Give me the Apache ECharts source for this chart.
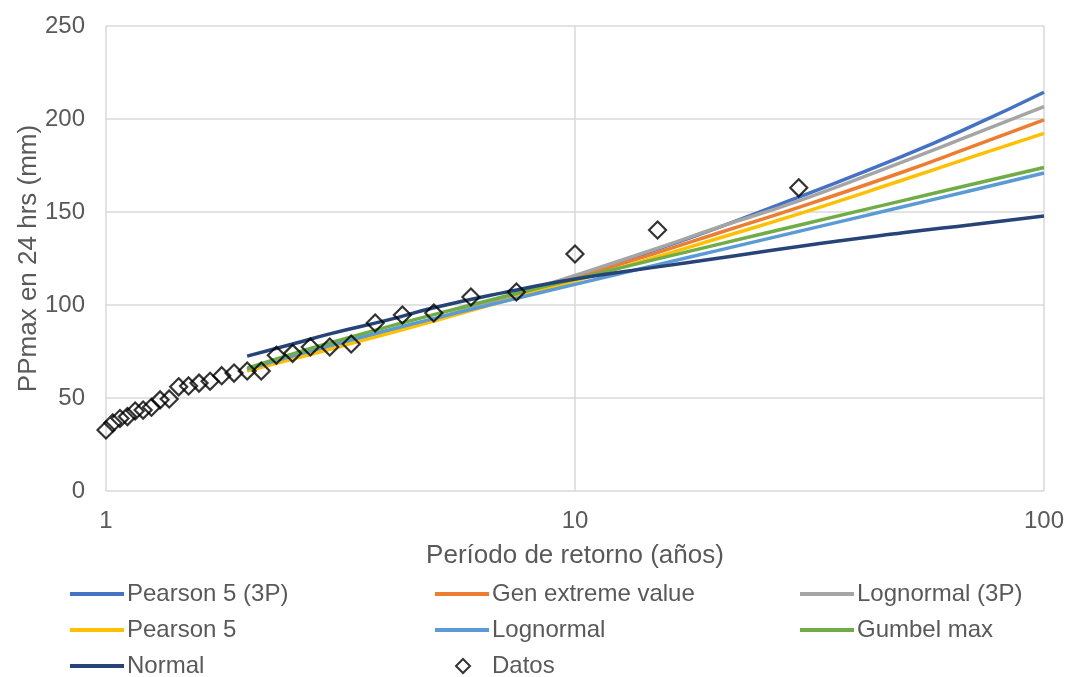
<!DOCTYPE html>
<html>
<head>
<meta charset="utf-8">
<script src="https://cdn.jsdelivr.net/npm/echarts@6/dist/echarts.min.js"></script>
<style>
  html, body { margin: 0; padding: 0; background: #fff; }
  #chart { width: 1067px; height: 677px; }
</style>
</head>
<body>
<div id="chart"></div>
<script>
// periodo de retorno para las curvas ajustadas
const curveT = [2, 2.5, 3, 4, 5, 7, 10, 15, 20, 30, 50, 70, 100];

const pearson5_3p = [65, 71.3, 76.6, 85.2, 92.2, 103.2, 115.2, 130, 141.2, 158, 180, 196, 214.4];
const genExtreme = [65, 71.4, 76.7, 85.3, 92.2, 102.9, 114.5, 128.2, 138.3, 152.5, 171.5, 185, 199.5];
const lognormal3p = [65, 71.4, 76.8, 85.5, 92.5, 103.6, 115.9, 130.5, 141.4, 156, 177, 191.3, 206.6];
const pearson5 = [64.5, 70.9, 76.2, 84.7, 91.4, 101.8, 113, 126, 135.5, 149, 167.2, 179.5, 192.3];
const lognormal = [65.5, 72.7, 78.2, 86.5, 92.7, 101.7, 111.1, 121.7, 129.1, 139.6, 152.8, 161.6, 171];
const gumbelMax = [66, 73.7, 79.6, 88.4, 94.8, 104.3, 114, 124.8, 132.3, 142.9, 156.1, 164.8, 173.9];
const normal = [72.5, 79, 84.5, 92, 98.5, 106.5, 114, 120.5, 125, 131.5, 138.8, 143.2, 147.9];

// datos observados
const datosT = [30, 15, 10, 7.5, 6, 5, 4.286, 3.75, 3.333, 3, 2.727, 2.5, 2.308, 2.143, 2,
  1.875, 1.765, 1.667, 1.579, 1.5, 1.429, 1.364, 1.304, 1.25, 1.2, 1.154, 1.111, 1.071, 1.034, 1];
const datosPP = [163, 140.3, 127.4, 107, 104.3, 95.7, 94.6, 90.3, 79, 77.4, 77.4, 74, 73, 64.5, 64.5,
  63.4, 62, 59, 58, 56.5, 56, 49.5, 49, 45, 43.5, 43, 40, 39, 36.6, 32.8];

const xTicks = [1, 10, 100];
const yTicks = [0, 50, 100, 150, 200, 250];

const fitSeries = [
  { name: "Pearson 5 (3P)", data: pearson5_3p, color: "#4472C4" },
  { name: "Gen extreme value", data: genExtreme, color: "#ED7D31" },
  { name: "Lognormal (3P)", data: lognormal3p, color: "#A5A5A5" },
  { name: "Pearson 5", data: pearson5, color: "#FFC000" },
  { name: "Lognormal", data: lognormal, color: "#5B9BD5" },
  { name: "Gumbel max", data: gumbelMax, color: "#70AD47" },
  { name: "Normal", data: normal, color: "#264478" },
];

const textColor = "#595959";
const font = "Liberation Sans, Arial, sans-serif";

const series = fitSeries.map((s) => ({
  name: s.name,
  type: "line",
  data: curveT.map((t, i) => [t, s.data[i]]),
  smooth: true,
  symbol: "none",
  lineStyle: { color: s.color, width: 3.5 },
  itemStyle: { color: s.color },
  z: 2,
}));

series.push({
  name: "Datos",
  type: "scatter",
  data: datosT.map((t, i) => [t, datosPP[i]]),
  symbol: "diamond",
  symbolSize: 17,
  itemStyle: { color: "rgba(255,255,255,0)", borderColor: "#000", borderWidth: 2.2 },
  z: 3,
});

const legendBase = {
  orient: "vertical",
  top: 582,
  height: 96,
  padding: 0,
  itemWidth: 54,
  itemHeight: 14,
  itemGap: 12,
  itemStyle: { opacity: 0 },
  lineStyle: { width: 4 },
  textStyle: { color: textColor, fontSize: 24, fontFamily: font, padding: [0, 0, 0, -2] },
};

const myChart = echarts.init(document.getElementById("chart"));
myChart.setOption({
  animation: false,
  grid: { left: 106, right: 23, top: 26, bottom: 186 },
  legend: [
    Object.assign({}, legendBase, { left: 68, data: ["Pearson 5 (3P)", "Pearson 5", "Normal"] }),
    Object.assign({}, legendBase, { left: 433, data: ["Gen extreme value", "Lognormal"] }),
    Object.assign({}, legendBase, { left: 798, data: ["Lognormal (3P)", "Gumbel max"] }),
    Object.assign({}, legendBase, {
      left: 455,
      top: 654,
      height: 30,
      itemWidth: 14,
      itemStyle: {},
      data: ["Datos"],
      textStyle: { color: textColor, fontSize: 24, fontFamily: font, padding: [0, 0, 0, 17] },
    }),
  ],
  xAxis: {
    type: "log",
    logBase: 10,
    min: xTicks[0],
    max: xTicks[xTicks.length - 1],
    name: "Período de retorno (años)",
    nameLocation: "middle",
    nameGap: 52,
    nameMoveOverlap: false,
    nameTextStyle: { color: textColor, fontSize: 26, fontFamily: font },
    axisLine: { show: false },
    axisTick: { show: false },
    axisLabel: { color: textColor, fontSize: 24, fontFamily: font, margin: 18 },
    splitLine: { show: true, lineStyle: { color: "#d9d9d9", width: 1.5 } },
  },
  yAxis: {
    type: "value",
    min: yTicks[0],
    max: yTicks[yTicks.length - 1],
    interval: 50,
    name: "PPmax en 24 hrs (mm)",
    nameLocation: "middle",
    nameGap: 64,
    nameMoveOverlap: false,
    nameTextStyle: { color: textColor, fontSize: 26, fontFamily: font },
    axisLine: { show: false },
    axisTick: { show: false },
    axisLabel: { color: textColor, fontSize: 24, fontFamily: font, margin: 21 },
    splitLine: { show: true, lineStyle: { color: "#d9d9d9", width: 1.5 } },
  },
  series: series,
});
</script>
</body>
</html>
